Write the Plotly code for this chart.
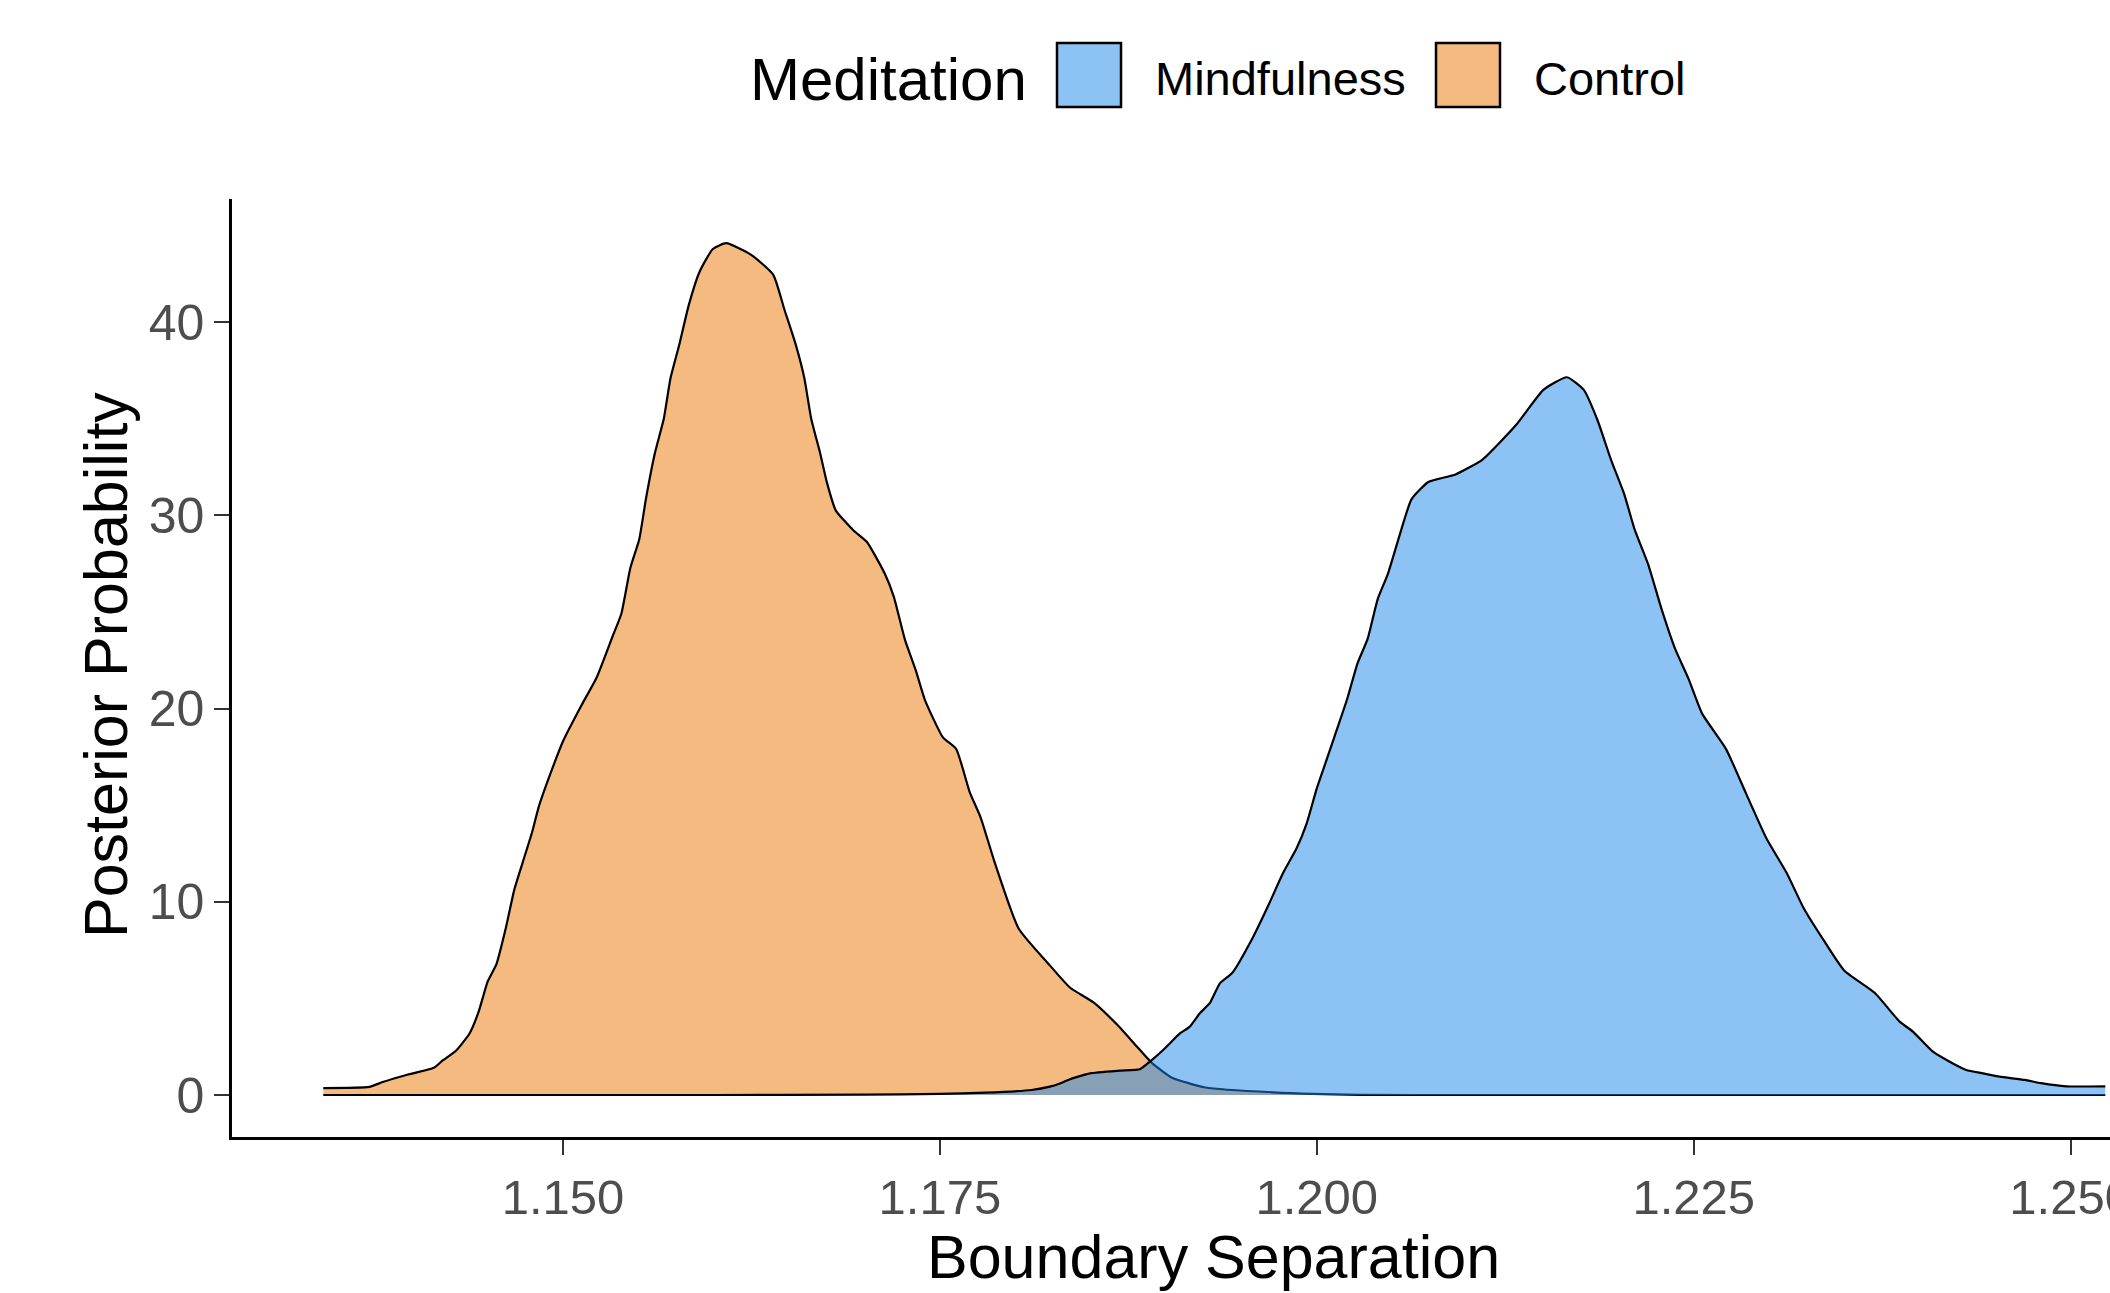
import plotly.graph_objects as go

# Posterior density of boundary separation, per meditation group
boundary_control = [
    1.13410, 1.13715, 1.13804, 1.13966, 1.14144, 1.14204, 1.14292, 1.14381, 1.14440, 1.14500,
    1.14558, 1.14618, 1.14677, 1.14736, 1.14795, 1.14840, 1.14914, 1.15003, 1.15121, 1.15225,
    1.15328, 1.15387, 1.15447, 1.15506, 1.15550, 1.15610, 1.15669, 1.15713, 1.15773, 1.15832,
    1.15906, 1.15994, 1.16083, 1.16246, 1.16394, 1.16468, 1.16542, 1.16601, 1.16646, 1.16705,
    1.16749, 1.16809, 1.16927, 1.17016, 1.17134, 1.17194, 1.17268, 1.17342, 1.17401, 1.17520,
    1.17608, 1.17697, 1.17771, 1.17860, 1.18022, 1.18229, 1.18364, 1.18521, 1.18678, 1.18812,
    1.18902, 1.19036, 1.19260, 1.19708, 1.20292, 1.21000, 1.25230,
]
density_control = [
    0.36, 0.42, 0.67, 1.05, 1.41, 1.80, 2.30, 3.20, 4.30, 5.87,
    6.76, 8.55, 10.63, 12.12, 13.60, 14.94, 16.58, 18.36, 20.15, 21.64,
    23.72, 24.91, 27.29, 28.77, 30.85, 33.24, 35.02, 37.10, 38.89, 40.82,
    42.61, 43.79, 44.09, 43.50, 42.46, 40.67, 38.89, 37.10, 35.02, 33.24,
    31.75, 30.26, 29.22, 28.62, 26.99, 25.80, 23.57, 21.93, 20.44, 18.51,
    17.91, 15.69, 14.35, 12.12, 8.62, 6.71, 5.55, 4.78, 3.62, 2.46,
    1.69, 0.91, 0.39, 0.14, 0.01, 0.0, 0.0,
]

boundary_mindfulness = [
    1.13410, 1.16000, 1.17000, 1.17500, 1.17800, 1.18108, 1.18229, 1.18296, 1.18351, 1.18417,
    1.18495, 1.18694, 1.18826, 1.18893, 1.18981, 1.19025, 1.19092, 1.19158, 1.19224, 1.19290,
    1.19357, 1.19440, 1.19574, 1.19686, 1.19776, 1.19866, 1.19933, 1.20000, 1.20068, 1.20135,
    1.20202, 1.20269, 1.20337, 1.20404, 1.20471, 1.20561, 1.20628, 1.20740, 1.20920, 1.21099,
    1.21323, 1.21503, 1.21659, 1.21771, 1.21861, 1.21951, 1.22040, 1.22108, 1.22198, 1.22287,
    1.22377, 1.22466, 1.22556, 1.22713, 1.22847, 1.22982, 1.23117, 1.23229, 1.23363, 1.23498,
    1.23700, 1.23866, 1.23954, 1.24087, 1.24198, 1.24308, 1.24419, 1.24529, 1.24695, 1.24805,
    1.24971, 1.25230,
]
density_mindfulness = [
    0.0, 0.0, 0.02, 0.06, 0.12, 0.26, 0.43, 0.60, 0.78, 0.95,
    1.12, 1.26, 1.33, 1.73, 2.33, 2.67, 3.19, 3.54, 4.23, 4.75,
    5.78, 6.33, 8.13, 9.94, 11.49, 12.77, 14.06, 15.87, 17.42, 18.96,
    20.51, 22.32, 23.61, 25.67, 26.96, 29.28, 30.83, 31.73, 32.12, 32.89,
    34.69, 36.50, 37.15, 36.50, 34.95, 32.89, 31.08, 29.28, 27.47, 25.15,
    23.09, 21.54, 19.74, 17.93, 15.61, 13.29, 11.49, 9.68, 8.00, 6.45,
    5.29, 3.80, 3.28, 2.24, 1.72, 1.29, 1.12, 0.95, 0.78, 0.61,
    0.45, 0.45,
]

x_ticks = [1.150, 1.175, 1.200, 1.225, 1.250]
x_tick_labels = ["1.150", "1.175", "1.200", "1.225", "1.250"]
y_ticks = [0, 10, 20, 30, 40]
y_tick_labels = ["0", "10", "20", "30", "40"]

groups = ["Mindfulness", "Control"]
legend_title = "Meditation"
x_title = "Boundary Separation"
y_title = "Posterior Probability"

# styling
FONT = "Liberation Sans, Arial, Helvetica, sans-serif"
FILL_MINDFULNESS = "rgba(27,133,235,0.5)"
FILL_CONTROL = "rgba(235,117,0,0.5)"
KEY_MINDFULNESS = "#8DC2F5"
KEY_CONTROL = "#F5BA80"

W, H = 2110, 1293
M_L, M_R, M_T, M_B = 232, 0, 199, 156
PLOT_W = W - M_L - M_R
PLOT_H = H - M_T - M_B


def px(xp):
    return (xp - M_L) / PLOT_W


def py(yp):
    return (H - M_B - yp) / PLOT_H


fig = go.Figure()

fig.add_trace(go.Scatter(
    x=boundary_control, y=density_control, name=groups[1],
    mode="lines", fill="tozeroy", fillcolor=FILL_CONTROL,
    line=dict(color="black", width=2.2, shape="spline", smoothing=0.5),
    showlegend=False, hoverinfo="x+y+name",
))
fig.add_trace(go.Scatter(
    x=boundary_mindfulness, y=density_mindfulness, name=groups[0],
    mode="lines", fill="tozeroy", fillcolor=FILL_MINDFULNESS,
    line=dict(color="black", width=2.2, shape="spline", smoothing=0.5),
    showlegend=False, hoverinfo="x+y+name",
))

# legend drawn as keys + labels across the top
shapes = []
annotations = []
annotations.append(dict(
    text=legend_title, x=px(748), y=py(80), xref="paper", yref="paper",
    xanchor="left", yanchor="middle", showarrow=False,
    font=dict(family=FONT, size=60, color="black"),
))
for label, key_color, key_left, text_left in [
    (groups[0], KEY_MINDFULNESS, 1057, 1153),
    (groups[1], KEY_CONTROL, 1436, 1532),
]:
    shapes.append(dict(
        type="rect", xref="paper", yref="paper",
        x0=px(key_left), x1=px(key_left + 64), y0=py(107), y1=py(43),
        fillcolor=key_color, line=dict(color="black", width=2.5), layer="above",
    ))
    annotations.append(dict(
        text=label, x=px(text_left), y=py(78), xref="paper", yref="paper",
        xanchor="left", yanchor="middle", showarrow=False,
        font=dict(family=FONT, size=47, color="black"),
    ))

# axis titles
annotations.append(dict(
    text=x_title, x=px(1213), y=py(1257), xref="paper", yref="paper",
    xanchor="center", yanchor="middle", showarrow=False,
    font=dict(family=FONT, size=61, color="black"),
))
annotations.append(dict(
    text=y_title, x=px(106), y=py(665), xref="paper", yref="paper",
    xanchor="center", yanchor="middle", showarrow=False, textangle=-90,
    font=dict(family=FONT, size=61, color="black"),
))

x_per_px = 0.025 / 376.9
y_per_px = 1 / 19.32

fig.update_layout(
    width=W, height=H,
    margin=dict(l=M_L, r=M_R, t=M_T, b=M_B, pad=0),
    paper_bgcolor="white", plot_bgcolor="white",
    showlegend=False,
    shapes=shapes, annotations=annotations,
    font=dict(family=FONT),
    xaxis=dict(
        range=[1.150 - (563 - M_L) * x_per_px, 1.150 + (W - 563) * x_per_px],
        tickmode="array", tickvals=x_ticks, ticktext=x_tick_labels,
        ticks="outside", ticklen=15, tickwidth=2, tickcolor="#333333",
        tickfont=dict(family=FONT, size=49, color="#4D4D4D"),
        ticklabeloverflow="allow",
        showline=True, linecolor="black", linewidth=2.5,
        showgrid=False, zeroline=False, automargin=False,
    ),
    yaxis=dict(
        range=[-(H - M_B - 1095) * y_per_px, (1095 - M_T) * y_per_px],
        tickmode="array", tickvals=y_ticks, ticktext=y_tick_labels,
        ticks="outside", ticklen=15, tickwidth=2, tickcolor="#333333",
        tickfont=dict(family=FONT, size=50, color="#4D4D4D"),
        showline=True, linecolor="black", linewidth=2.5,
        showgrid=False, zeroline=False, automargin=False,
    ),
)

fig.write_html("out.html", config={"displayModeBar": False})
